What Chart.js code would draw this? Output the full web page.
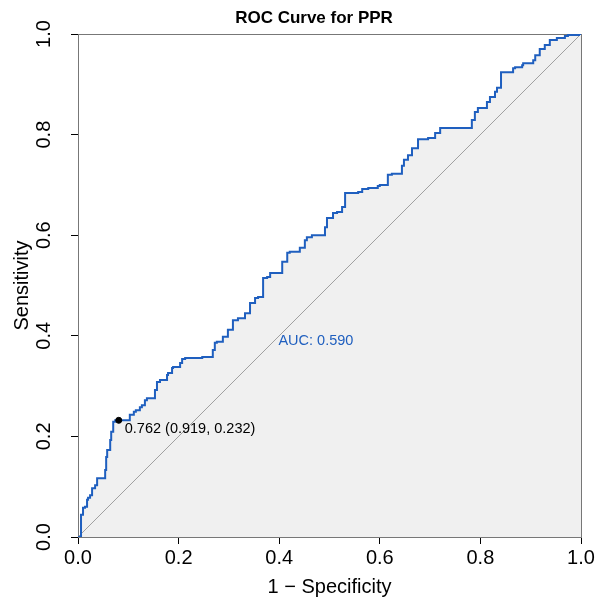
<!DOCTYPE html>
<html>
<head>
<meta charset="utf-8">
<script src="https://cdn.jsdelivr.net/npm/chart.js@4"></script>
<style>
  html, body { margin:0; padding:0; background:#fff; }
  canvas { display:block; }
</style>
</head>
<body>
<canvas id="rocChart" width="597" height="601"></canvas>
<script>
// ROC curve: false positive rate (1 - specificity) and sensitivity
const fpr = [0, 0.006, 0.006, 0.010, 0.014, 0.018, 0.020, 0.024, 0.028, 0.034, 0.038, 0.044, 0.054, 0.056, 0.058, 0.064, 0.066, 0.070, 0.074, 0.081,
  0.103, 0.103, 0.111, 0.115, 0.123, 0.127, 0.133, 0.137, 0.141, 0.153, 0.157, 0.163, 0.177, 0.179, 0.187, 0.189, 0.203, 0.207, 0.213, 0.247,
  0.268, 0.272, 0.276, 0.288, 0.298, 0.308, 0.318, 0.332, 0.342, 0.352, 0.358, 0.368, 0.376, 0.382, 0.392, 0.406, 0.416, 0.421, 0.441, 0.451,
  0.455, 0.465, 0.491, 0.495, 0.507, 0.515, 0.525, 0.531, 0.545, 0.557, 0.565, 0.577, 0.596, 0.600, 0.616, 0.624, 0.644, 0.648, 0.656, 0.664,
  0.676, 0.696, 0.710, 0.720, 0.730, 0.783, 0.789, 0.795, 0.803, 0.813, 0.819, 0.829, 0.833, 0.841, 0.845, 0.865, 0.869, 0.883, 0.885, 0.905,
  0.909, 0.918, 0.928, 0.938, 0.952, 0.968, 0.974, 0.996, 1];
const tpr = [0, 0, 0.044, 0.044, 0.058, 0.060, 0.074, 0.078, 0.083, 0.097, 0.103, 0.117, 0.117, 0.133, 0.159, 0.173, 0.193, 0.209, 0.229, 0.232,
  0.232, 0.241, 0.243, 0.249, 0.252, 0.258, 0.262, 0.272, 0.276, 0.276, 0.292, 0.308, 0.312, 0.322, 0.326, 0.336, 0.338, 0.346, 0.354, 0.356,
  0.358, 0.372, 0.386, 0.388, 0.398, 0.412, 0.431, 0.435, 0.445, 0.465, 0.475, 0.477, 0.515, 0.517, 0.525, 0.525, 0.547, 0.565, 0.567, 0.575,
  0.590, 0.596, 0.600, 0.616, 0.634, 0.644, 0.646, 0.656, 0.684, 0.684, 0.686, 0.692, 0.694, 0.698, 0.700, 0.720, 0.722, 0.738, 0.750, 0.759,
  0.773, 0.791, 0.793, 0.803, 0.813, 0.813, 0.829, 0.845, 0.853, 0.853, 0.865, 0.875, 0.885, 0.893, 0.924, 0.924, 0.932, 0.934, 0.938, 0.942,
  0.948, 0.958, 0.970, 0.978, 0.988, 0.992, 0.996, 0.998, 1];
const chanceX = [0, 1];
const chanceY = [0, 1];
const bestThreshold = 0.762, bestSpec = 0.919, bestSens = 0.232;
const aucValue = 0.590;
const xTicks = [0, 0.2, 0.4, 0.6, 0.8, 1.0];
const yTicks = [0, 0.2, 0.4, 0.6, 0.8, 1.0];

const BLUE = "#1f5fbf";
const FONT = "'Liberation Sans', Arial, sans-serif";

const decorPlugin = {
  id:"decor",
  beforeDatasetsDraw(chart){
    const { ctx, chartArea:a } = chart;
    ctx.save();
    ctx.strokeStyle = "#777";
    ctx.lineWidth = 1;
    ctx.strokeRect(a.left + .5, a.top + .5, a.right - a.left, a.bottom - a.top);
    ctx.restore();
  },
  afterDraw(chart){
    const { ctx } = chart;
    const xs = chart.scales.x, ys = chart.scales.y;
    ctx.save();
    ctx.fillStyle = "#000";
    ctx.textAlign = "center";
    ctx.textBaseline = "middle";

    // y tick labels, rotated like R's default
    ctx.font = "20px " + FONT;
    yTicks.forEach(v => {
      ctx.save();
      ctx.translate(44, ys.getPixelForValue(v));
      ctx.rotate(-Math.PI / 2);
      ctx.fillText(v.toFixed(1), 0, 0);
      ctx.restore();
    });

    // axis titles
    const cx = (xs.left + xs.right) / 2;
    ctx.fillText("1 \u2212 Specificity", cx, 587);
    ctx.save();
    ctx.translate(22, (ys.top + ys.bottom) / 2);
    ctx.rotate(-Math.PI / 2);
    ctx.fillText("Sensitivity", 0, 0);
    ctx.restore();

    // main title (sits a little left of the plot centre in the original)
    ctx.font = "bold 17px " + FONT;
    ctx.textBaseline = "alphabetic";
    ctx.fillText("ROC Curve for PPR", 314, 23);
    ctx.textBaseline = "middle";

    // AUC
    ctx.font = "14.5px " + FONT;
    ctx.fillStyle = BLUE;
    ctx.fillText("AUC: " + aucValue.toFixed(3), xs.getPixelForValue(0.473), ys.getPixelForValue(0.39));

    // best threshold label
    ctx.fillStyle = "#000";
    ctx.textAlign = "left";
    ctx.fillText(bestThreshold.toFixed(3) + " (" + bestSpec.toFixed(3) + ", " + bestSens.toFixed(3) + ")",
      xs.getPixelForValue(1 - bestSpec) + 6, ys.getPixelForValue(bestSens) + 9);
    ctx.restore();
  }
};

function axisOpts(ticks, size){
  return {
    type:"linear", min:0, max:1,
    afterBuildTicks:s => { s.ticks = ticks.map(v => ({ value:v })); },
    afterFit:s => { if(s.isHorizontal()) s.height = size; else s.width = size; },
    grid:{ drawOnChartArea:false, drawTicks:true, tickLength:7, color:"#000", lineWidth:1 },
    border:{ display:true, color:"#000", width:1 },
    ticks:{ color:"#000", font:{ family:FONT, size:20 }, padding:2, maxRotation:0, callback:v => Number(v).toFixed(1) }
  };
}

const yAxis = axisOpts(yTicks, 78);
yAxis.ticks.display = false;

new Chart(document.getElementById("rocChart").getContext("2d"), {
  type:"scatter",
  data:{
    datasets:[
      { label:"best", data:[{ x:1 - bestSpec, y:bestSens }], showLine:false, pointRadius:3, pointBackgroundColor:"#000", pointBorderColor:"#000", order:0 },
      { label:"ROC", data:fpr.map((x, i) => ({ x, y:tpr[i] })), showLine:true, stepped:"after", borderColor:BLUE, borderWidth:2, pointRadius:0,
        fill:"origin", backgroundColor:"#f0f0f0", tension:0, order:1 },
      { label:"chance", data:chanceX.map((x, i) => ({ x, y:chanceY[i] })), showLine:true, borderColor:"#a0a0a0", borderWidth:1, pointRadius:0, fill:false, order:2 }
    ]
  },
  options:{
    responsive:false,
    animation:false,
    devicePixelRatio:1,
    layout:{ padding:{ top:34, right:16, left:0, bottom:0 } },
    plugins:{ legend:{ display:false }, tooltip:{ enabled:false }, filler:{ drawTime:"beforeDatasetsDraw" } },
    scales:{ x:axisOpts(xTicks, 64), y:yAxis }
  },
  plugins:[decorPlugin]
});
</script>
</body>
</html>
